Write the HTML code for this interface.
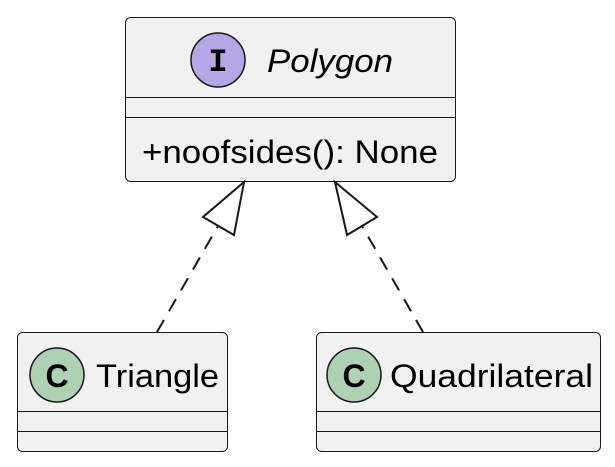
<!DOCTYPE html>
<html><head><style>html,body{margin:0;padding:0;background:#fff;}svg{display:block}</style></head>
<body>
<svg width="615" height="467" viewBox="0 0 615 467" xmlns="http://www.w3.org/2000/svg" font-family="Liberation Sans, sans-serif">
<rect x="125.5" y="17.5" width="330" height="164" rx="5" fill="#f1f1f1" stroke="#181818" stroke-width="1"/>
<line x1="126" y1="97.5" x2="455" y2="97.5" stroke="#181818"/>
<line x1="126" y1="117.5" x2="455" y2="117.5" stroke="#181818"/>
<circle cx="218" cy="60" r="27" fill="#b4a7e5" stroke="#181818" stroke-width="1.5"/>
<text x="218" y="71" font-family="Liberation Mono, monospace" font-weight="bold" font-size="32" text-anchor="middle">I</text>
<text x="267" y="72" font-size="32" font-style="italic" textLength="126" lengthAdjust="spacingAndGlyphs">Polygon</text>
<text x="142" y="163" font-size="32" textLength="296" lengthAdjust="spacingAndGlyphs">+noofsides(): None</text>

<rect x="17.5" y="332.5" width="210" height="119" rx="5" fill="#f1f1f1" stroke="#181818"/>
<line x1="18" y1="411.5" x2="227" y2="411.5" stroke="#181818"/>
<line x1="18" y1="431.5" x2="227" y2="431.5" stroke="#181818"/>
<circle cx="57" cy="375" r="27" fill="#add1b2" stroke="#181818" stroke-width="1.5"/>
<text x="57" y="387" font-size="32" font-weight="bold" text-anchor="middle">C</text>
<text x="96" y="387" font-size="32" textLength="123" lengthAdjust="spacingAndGlyphs">Triangle</text>

<rect x="316.5" y="332.5" width="284" height="119" rx="5" fill="#f1f1f1" stroke="#181818"/>
<line x1="317" y1="411.5" x2="600" y2="411.5" stroke="#181818"/>
<line x1="317" y1="431.5" x2="600" y2="431.5" stroke="#181818"/>
<circle cx="354" cy="375" r="27" fill="#add1b2" stroke="#181818" stroke-width="1.5"/>
<text x="354" y="387" font-size="32" font-weight="bold" text-anchor="middle">C</text>
<text x="390" y="387" font-size="32" textLength="203" lengthAdjust="spacingAndGlyphs">Quadrilateral</text>

<line x1="157" y1="332" x2="218" y2="226" stroke="#181818" stroke-width="2" stroke-dasharray="14,10"/>
<polygon points="244,182 203,217 234,235" fill="#fff" stroke="#181818" stroke-width="2"/>
<line x1="423" y1="332" x2="362" y2="226" stroke="#181818" stroke-width="2" stroke-dasharray="14,10"/>
<polygon points="335,182 377,217 347,235" fill="#fff" stroke="#181818" stroke-width="2"/>
</svg>
</body></html>
